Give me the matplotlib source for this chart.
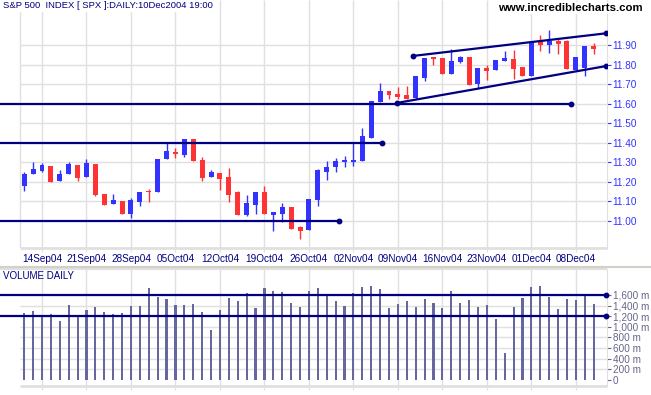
import matplotlib
matplotlib.use('Agg')
import matplotlib.pyplot as plt
from matplotlib.lines import Line2D
import numpy as np

# ---------------- data ----------------
opens = [11.18, 11.24, 11.256, 11.28, 11.205, 11.238, 11.285, 11.226, 11.291, 11.137,
         11.087, 11.10, 11.036, 11.097, 11.154, 11.149, 11.316, 11.354, 11.338, 11.419,
         11.311, 11.226, 11.244, 11.224, 11.145, 11.029, 11.082, 11.147, 11.031, 11.036,
         11.07, 10.966, 10.954, 11.108, 11.251, 11.275, 11.299, 11.303, 11.308, 11.426,
         11.608, 11.663, 11.648, 11.644, 11.628, 11.732, 11.84, 11.836, 11.752, 11.812,
         11.838, 11.703, 11.785, 11.771, 11.817, 11.831, 11.79, 11.742, 11.92, 11.903,
         11.921, 11.92, 11.771, 11.785, 11.894]
highs = [11.25, 11.30, 11.296, 11.28, 11.26, 11.30, 11.285, 11.316, 11.291, 11.137,
         11.137, 11.10, 11.116, 11.147, 11.162, 11.316, 11.397, 11.374, 11.419, 11.419,
         11.326, 11.26, 11.244, 11.270, 11.152, 11.132, 11.147, 11.178, 11.043, 11.091,
         11.07, 10.971, 11.111, 11.263, 11.306, 11.32, 11.333, 11.403, 11.475, 11.614,
         11.706, 11.663, 11.685, 11.69, 11.742, 11.836, 11.84, 11.836, 11.883, 11.845,
         11.838, 11.783, 11.797, 11.826, 11.868, 11.874, 11.79, 11.916, 11.95, 11.976,
         11.93, 11.928, 11.839, 11.894, 11.913]
lows = [11.15, 11.24, 11.251, 11.20, 11.205, 11.238, 11.205, 11.226, 11.126, 11.082,
        11.087, 11.036, 11.015, 11.077, 11.097, 11.149, 11.316, 11.323, 11.328, 11.308,
        11.205, 11.226, 11.157, 11.097, 11.027, 11.026, 11.036, 11.036, 10.949, 10.991,
        10.959, 10.906, 10.954, 11.077, 11.209, 11.248, 11.277, 11.282, 11.308, 11.426,
        11.608, 11.622, 11.622, 11.622, 11.626, 11.716, 11.80, 11.752, 11.752, 11.809,
        11.697, 11.682, 11.72, 11.771, 11.817, 11.728, 11.742, 11.742, 11.87, 11.86,
        11.853, 11.776, 11.771, 11.742, 11.853]
closes = [11.24, 11.265, 11.284, 11.20, 11.238, 11.289, 11.221, 11.296, 11.132, 11.082,
          11.106, 11.036, 11.106, 11.147, 11.145, 11.316, 11.357, 11.340, 11.419, 11.308,
          11.219, 11.25, 11.214, 11.133, 11.027, 11.091, 11.147, 11.036, 11.043, 11.068,
          10.959, 10.949, 11.111, 11.260, 11.277, 11.308, 11.312, 11.311, 11.434, 11.614,
          11.663, 11.643, 11.636, 11.625, 11.74, 11.836, 11.828, 11.752, 11.82, 11.838,
          11.697, 11.783, 11.769, 11.826, 11.832, 11.779, 11.742, 11.916, 11.903, 11.92,
          11.904, 11.776, 11.839, 11.894, 11.882]
volumes = [1267, 1304, 1204, 1241, 1110, 1411, 1185, 1317, 1373, 1279,
           1241, 1267, 1392, 1392, 1731, 1561, 1524, 1411, 1411, 1430,
           1279, 941, 1317, 1542, 1486, 1636, 1354, 1731, 1674, 1655,
           1448, 1373, 1674, 1731, 1618, 1486, 1392, 1636, 1749, 1768,
           1712, 1354, 1430, 1486, 1373, 1524, 1448, 1354, 1674, 1448,
           1505, 1373, 1411, 1147, 508, 1373, 1542, 1749, 1768, 1561,
           1335, 1524, 1505, 1618, 1430]

date_labels = ['14Sep04', '21Sep04', '28Sep04', '05Oct04', '12Oct04', '19Oct04', '26Oct04',
               '02Nov04', '09Nov04', '16Nov04', '23Nov04', '01Dec04', '08Dec04']
date_label_index = [2, 7, 12, 17, 22, 27, 32, 37, 42, 47, 52, 57, 62]
price_ticks = [11.00, 11.10, 11.20, 11.30, 11.40, 11.50, 11.60, 11.70, 11.80, 11.90]
volume_ticks = [0, 200, 400, 600, 800, 1000, 1200, 1400, 1600]

support_levels = [11.00, 11.40, 11.60]
support_end_index = [35.4, 40.2, 61.4]
channel_upper_x = [43.7, 65.4]
channel_upper_y = [11.845, 11.961]
channel_lower_x = [41.9, 65.4]
channel_lower_y = [11.604, 11.793]
volume_levels = [1600, 1200]
volume_level_end = 65.4

# ---------------- style ----------------
plt.rcParams['font.family'] = ['Liberation Sans', 'DejaVu Sans']
BLUE = '#3333ff'
RED = '#ff3333'
NAVY = '#000080'
GRID = '#e0e0e0'
VOLC = '#67679f'
VLAB = '#666688'

W, H = 651, 395
fig = plt.figure(figsize=(W / 100, H / 100), dpi=100)
fig.patch.set_facecolor('white')

XL, XR = -2.72, 65.5
XGRID_LEFT = -0.47

axp = fig.add_axes([0, 1 - 248 / H, 607 / W, 248 / H])
axv = fig.add_axes([0, 1 - 386 / H, 607 / W, 117 / H])

n = len(closes)
x = np.arange(n)
o = np.array(opens); c = np.array(closes); hi = np.array(highs); lo = np.array(lows)
up = c >= o
cols = np.where(up, BLUE, RED)

# price panel
axp.set_xlim(XL, XR)
axp.set_ylim(10.86, 12.1318)
for s in axp.spines.values():
    s.set_visible(False)
axp.spines['right'].set_visible(True)
axp.spines['right'].set_color(GRID)
axp.hlines(price_ticks, XGRID_LEFT, XR, color=GRID, lw=1.0, zorder=0)
axp.vlines([XGRID_LEFT] + date_label_index, 10.86, 12.1318, color=GRID, lw=1.0, zorder=0)
axp.hlines([10.86], XGRID_LEFT, XR, color=GRID, lw=2.0, zorder=0, clip_on=False)

axp.vlines(x, lo, hi, color=cols, lw=1.0, zorder=2)
body_h = np.maximum(np.abs(c - o), 0.006)
axp.bar(x, body_h, bottom=np.minimum(o, c), width=0.56, color=cols, lw=0, zorder=3)

for lvl, xe in zip(support_levels, support_end_index):
    axp.plot([XL, xe], [lvl, lvl], color=NAVY, lw=1.6, zorder=5, solid_capstyle='butt')
    axp.plot([xe], [lvl], 'o', color=NAVY, ms=3.2, zorder=6)
axp.plot(channel_upper_x, channel_upper_y, color=NAVY, lw=1.6, zorder=5, marker='o', ms=3.2)
axp.plot(channel_lower_x, channel_lower_y, color=NAVY, lw=1.6, zorder=5, marker='o', ms=3.2)

axp.yaxis.tick_right()
axp.set_yticks(price_ticks)
axp.set_yticklabels(['%.2f' % t for t in price_ticks])
axp.tick_params(axis='y', colors=BLUE, length=3, pad=1, labelsize=7.2, width=0.8)
axp.set_xticks(date_label_index)
axp.set_xticklabels(date_labels)
axp.tick_params(axis='x', colors=GRID, labelcolor=NAVY, length=3, pad=1.5, labelsize=7.2)

fig.text(3 / W, 1 - 6 / H, 'S&P 500  INDEX [ SPX ]:DAILY:10Dec2004 19:00',
         fontsize=6.8, color=NAVY, ha='left', va='center',
         bbox=dict(facecolor='white', edgecolor='none', pad=1.0))
fig.text(643 / W, 1 - 8 / H, 'www.incrediblecharts.com', fontsize=8.2, fontweight='bold',
         color='black', ha='right', va='center',
         bbox=dict(facecolor='white', edgecolor='none', pad=1.0))

# volume panel
axv.set_xlim(XL, XR)
axv.set_ylim(-113, 2089)
for s in axv.spines.values():
    s.set_visible(False)
axv.spines['right'].set_visible(True)
axv.spines['right'].set_color(GRID)
axv.hlines(volume_ticks[1:], XGRID_LEFT, XR, color=GRID, lw=1.0, zorder=0)
axv.vlines(date_label_index, -113, 2089, color=GRID, lw=1.0, zorder=0)
axv.hlines([-113], XGRID_LEFT, XR, color=GRID, lw=2.0, zorder=0, clip_on=False)
axv.hlines([2089], XL, XR, color=GRID, lw=1.5, zorder=0, clip_on=False)
axv.bar(x, volumes, width=0.24, color=VOLC, lw=0, zorder=2)
for lvl in volume_levels:
    axv.plot([XL, volume_level_end], [lvl, lvl], color=NAVY, lw=1.6, zorder=5)
    axv.plot([volume_level_end], [lvl], 'o', color=NAVY, ms=3.2, zorder=6, clip_on=False)
axv.yaxis.tick_right()
axv.set_yticks(volume_ticks)
axv.set_yticklabels(['{:,} m'.format(v) if v else '0' for v in volume_ticks])
axv.tick_params(axis='y', colors=VLAB, length=3, pad=1, labelsize=7.2, width=0.8)
axv.set_xticks(date_label_index)
axv.set_xticklabels([])
axv.tick_params(axis='x', colors=GRID, length=3)
fig.text(3 / W, 1 - 276 / H, 'VOLUME DAILY', fontsize=7.0, color=NAVY, ha='left', va='center')

# separator band between panels
fig.add_artist(Line2D([0, 1], [1 - 267 / H, 1 - 267 / H], color='#d4d0c8', lw=1.5,
                      transform=fig.transFigure))

fig.savefig('out.png', dpi=100, facecolor='white')
